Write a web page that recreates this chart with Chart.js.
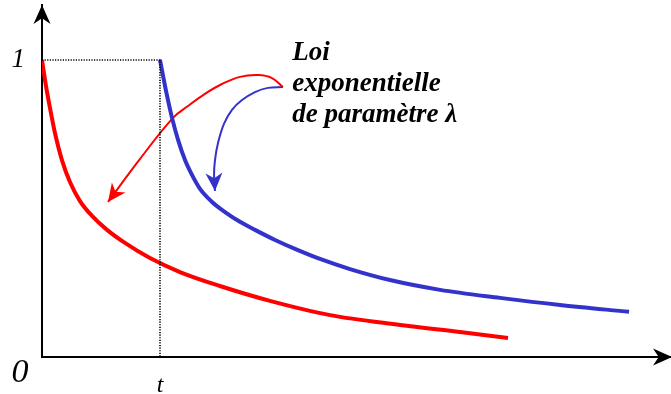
<!DOCTYPE html>
<html>
<head>
<meta charset="utf-8">
<script src="https://cdn.jsdelivr.net/npm/chart.js@4"></script>
<style>
  body { margin: 0; background: #fff; }
  #wrap { width: 671px; height: 394px; }
</style>
</head>
<body>
<div id="wrap"><canvas id="expChart" width="671" height="394"></canvas></div>
<script>
// x is in units of t, y is the survival probability
const redX  = [0, 0.034, 0.068, 0.11, 0.169, 0.237, 0.322, 0.424, 0.551, 0.703, 0.915, 1.169, 1.508, 1.932, 2.441, 3.034, 3.542, 3.949];
const redY  = [1, 0.912, 0.838, 0.754, 0.663, 0.589, 0.525, 0.475, 0.428, 0.384, 0.333, 0.286, 0.239, 0.189, 0.141, 0.108, 0.084, 0.064];
const blueX = [1, 1.051, 1.102, 1.153, 1.212, 1.271, 1.339, 1.441, 1.551, 1.678, 1.805, 1.975, 2.144, 2.356, 2.61, 2.949, 3.373, 3.881, 4.39, 4.975];
const blueY = [1, 0.896, 0.805, 0.731, 0.663, 0.613, 0.566, 0.522, 0.488, 0.455, 0.428, 0.394, 0.364, 0.33, 0.296, 0.259, 0.226, 0.199, 0.175, 0.152];

// dotted guide 1 -> t -> 0
const guideX = [0, 1, 1];
const guideY = [1, 1, 0];

// annotation arrows (from the caption towards each curve)
const redArrowX  = [2.042, 1.949, 1.831, 1.678, 1.525, 1.381, 1.237, 1.11, 0.831, 0.559];
const redArrowY  = [0.909, 0.939, 0.949, 0.943, 0.919, 0.886, 0.845, 0.805, 0.667, 0.522];
const blueArrowX = [2.042, 1.915, 1.805, 1.695, 1.61, 1.542, 1.492, 1.466, 1.458, 1.466];
const blueArrowY = [0.909, 0.906, 0.892, 0.865, 0.832, 0.785, 0.721, 0.663, 0.613, 0.559];

const xTickValues = [1];
const xTickLabels = ['t'];
const yTickValues = [1];
const yTickLabels = ['1'];
const originLabel = '0';
const caption = ['Loi', 'exponentielle', 'de paramètre λ'];

const pts = (xs, ys) => xs.map((x, i) => ({ x: x, y: ys[i] }));

const RED = '#ff0000';
const BLUE = '#3333cc';

// axis arrowheads, the origin label, caption and arrow tips
const decorations = {
    id: 'decorations',
    afterDatasetsDraw(chart) {
        const { ctx, chartArea: a, scales: { x, y } } = chart;

        const head = (tx, ty, dx, dy, len, half, color) => {
            // (dx, dy): unit vector pointing back from the tip
            const nx = -dy, ny = dx;
            ctx.save();
            ctx.fillStyle = color;
            ctx.beginPath();
            ctx.moveTo(tx, ty);
            ctx.lineTo(tx + dx * len + nx * half, ty + dy * len + ny * half);
            ctx.lineTo(tx + dx * len * 0.7, ty + dy * len * 0.7);
            ctx.lineTo(tx + dx * len - nx * half, ty + dy * len - ny * half);
            ctx.closePath();
            ctx.fill();
            ctx.restore();
        };

        head(a.left, a.top, 0, 1, 19, 8.5, '#000');
        head(a.right + 2, a.bottom, -1, 0, 19, 8.5, '#000');

        chart.data.datasets.forEach(ds => {
            if (!ds.arrow) return;
            const d = ds.data;
            const p1 = d[d.length - 1], p0 = d[d.length - 2];
            const tx = x.getPixelForValue(p1.x), ty = y.getPixelForValue(p1.y);
            const bx = x.getPixelForValue(p0.x) - tx, by = y.getPixelForValue(p0.y) - ty;
            const n = Math.hypot(bx, by);
            head(tx, ty, bx / n, by / n, 18, 8.5, ds.borderColor);
        });

        ctx.save();
        ctx.fillStyle = '#000';
        ctx.textAlign = 'center';
        ctx.textBaseline = 'alphabetic';
        ctx.font = 'italic 34px "Liberation Serif"';
        ctx.fillText(originLabel, a.left - 22, a.bottom + 25);

        ctx.textAlign = 'left';
        ctx.font = 'bold italic 27px "Liberation Serif"';
        const left = x.getPixelForValue(2.12);
        caption.forEach((line, i) => {
            ctx.fillText(line, left, y.getPixelForValue(1) + i * 31);
        });
        ctx.restore();
    }
};

const lineDefaults = { pointRadius: 0, pointHoverRadius: 0, fill: false };

const noPad = s => { s.paddingTop = 0; s.paddingBottom = 0; s.paddingLeft = 0; s.paddingRight = 0; };

const chart = new Chart(document.getElementById('expChart').getContext('2d'), {
    type: 'line',
    data: {
        datasets: [
            {
                ...lineDefaults,
                label: 'guide',
                data: pts(guideX, guideY),
                borderColor: '#000',
                borderWidth: 1.6,
                borderDash: [1.2, 1.4],
                tension: 0
            },
            {
                ...lineDefaults,
                label: 'from 0',
                data: pts(redX, redY),
                borderColor: RED,
                borderWidth: 4,
                cubicInterpolationMode: 'monotone'
            },
            {
                ...lineDefaults,
                label: 'from t',
                data: pts(blueX, blueY),
                borderColor: BLUE,
                borderWidth: 4,
                cubicInterpolationMode: 'monotone'
            },
            {
                ...lineDefaults,
                label: 'red arrow',
                arrow: true,
                data: pts(redArrowX, redArrowY),
                borderColor: RED,
                borderWidth: 2,
                tension: 0.4
            },
            {
                ...lineDefaults,
                label: 'blue arrow',
                arrow: true,
                data: pts(blueArrowX, blueArrowY),
                borderColor: BLUE,
                borderWidth: 2,
                tension: 0.4
            }
        ]
    },
    options: {
        responsive: false,
        animation: false,
        layout: { padding: { top: 5, right: 1, left: 0, bottom: 0 } },
        plugins: {
            legend: { display: false },
            tooltip: { enabled: false }
        },
        scales: {
            x: {
                type: 'linear',
                min: 0,
                max: 5.322,
                afterFit: s => { s.height = 37; noPad(s); },
                afterBuildTicks: s => { s.ticks = xTickValues.map(v => ({ value: v })); },
                grid: { display: false, drawTicks: false },
                border: { display: true, color: '#000', width: 2 },
                ticks: {
                    color: '#000',
                    maxRotation: 0,
                    padding: 14,
                    font: { family: 'Liberation Serif', style: 'italic', size: 24 },
                    callback: v => xTickLabels[xTickValues.indexOf(v)] ?? ''
                }
            },
            y: {
                type: 'linear',
                min: 0,
                max: 1.185,
                afterFit: s => { s.width = 42; noPad(s); },
                afterBuildTicks: s => { s.ticks = yTickValues.map(v => ({ value: v })); },
                grid: { display: false, drawTicks: false },
                border: { display: true, color: '#000', width: 2 },
                ticks: {
                    color: '#000',
                    padding: 17,
                    font: { family: 'Liberation Serif', style: 'italic', size: 27 },
                    callback: v => yTickLabels[yTickValues.indexOf(v)] ?? ''
                }
            }
        }
    },
    plugins: [decorations]
});
</script>
</body>
</html>
